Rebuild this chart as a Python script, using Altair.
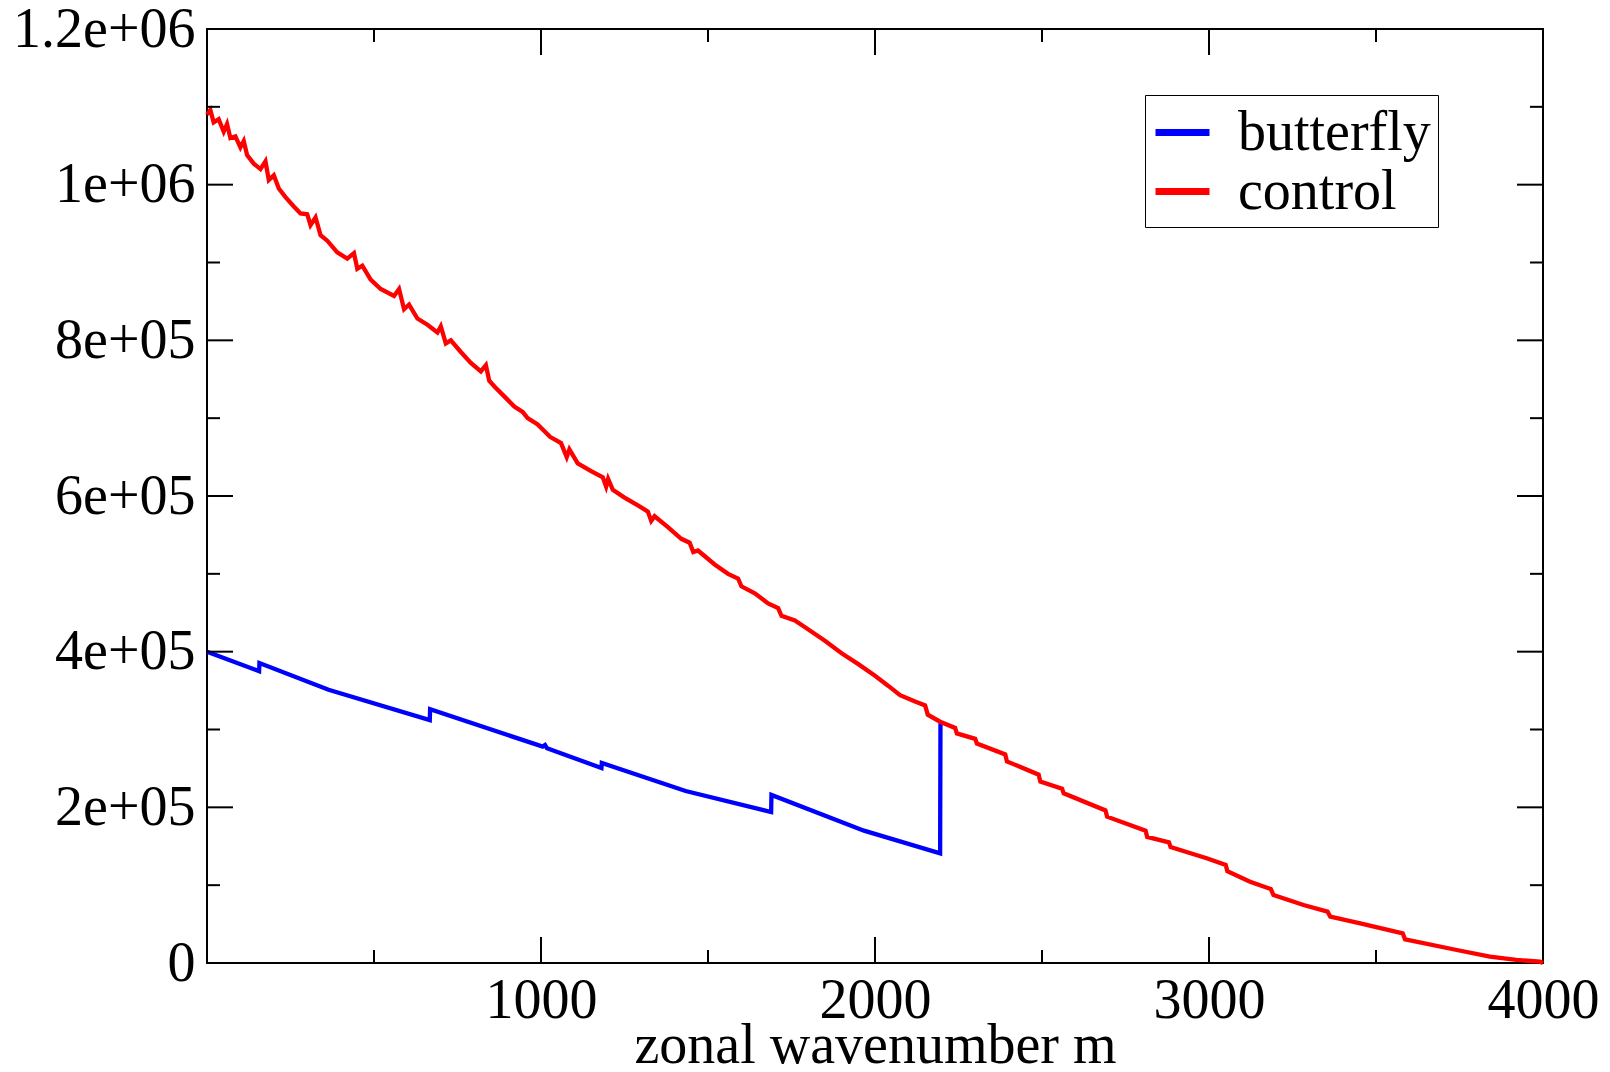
import altair as alt
import pandas as pd

# ---- data ----
control_m = [0, 10, 20, 35, 50, 60, 70, 85, 100, 110, 120, 140, 160, 175, 185, 200, 215, 235,
             260, 280, 300, 310, 325, 340, 360, 390, 420, 440, 450, 465, 490, 520, 560, 575,
             590, 605, 630, 660, 690, 700, 715, 730, 760, 790, 820, 835, 845, 862, 890, 920,
             945, 960, 990, 1027, 1060, 1077, 1085, 1110, 1150, 1185, 1195, 1201, 1215, 1250,
             1290, 1320, 1330, 1340, 1380, 1420, 1445, 1456, 1470, 1520, 1560, 1590, 1600,
             1640, 1680, 1710, 1720, 1760, 1795, 1850, 1900, 1950, 2000, 2040, 2075, 2120,
             2150, 2158, 2195, 2240, 2245, 2300, 2305, 2390, 2395, 2490, 2495, 2560, 2565,
             2690, 2695, 2810, 2815, 2880, 2885, 2993, 3050, 3055, 3123, 3185, 3193, 3283,
             3355, 3363, 3453, 3580, 3587, 3742, 3841, 3920, 3991, 4000]
control_v = [1090, 1096, 1080, 1084, 1068, 1078, 1060, 1062, 1048, 1056, 1038, 1027, 1020, 1030,
             1006, 1012, 995, 984, 972, 963, 962, 948, 958, 935, 928, 913, 905, 912, 892, 896,
             878, 866, 857, 866, 840, 846, 828, 820, 810, 818, 796, 800, 785, 771, 760, 768,
             748, 740, 728, 715, 708, 700, 692, 676, 668, 650, 660, 642, 632, 624, 612, 622,
             608, 598, 588, 580, 568, 574, 560, 545, 540, 528, 530, 512, 500, 494, 484, 475,
             462, 456, 446, 440, 430, 414, 398, 384, 369, 356, 344, 336, 331, 319, 310, 302,
             295, 288, 282, 268, 259, 242, 233, 224, 218, 196, 188, 170, 162, 155, 149, 134.5,
             126, 118, 104.5, 95, 87.4, 74.5, 66, 59.5, 51, 38, 30.4, 16.7, 8.1, 4, 1.7, 0]

butterfly_m = [0, 156, 157, 364, 667, 668, 1005, 1012, 1018, 1181, 1182, 1433, 1689, 1690,
               1967, 2195, 2196]
butterfly_v = [400, 375, 385.4, 351, 312, 326, 278, 280, 276, 250.5, 257, 221, 194, 216,
               170, 141, 308]

series_names = ["butterfly", "control"]
series_colors = ["#0000ff", "#ff0000"]

x_label_values = [1000, 2000, 3000, 4000]
x_major_ticks = [1000, 2000, 3000]
x_minor_ticks = [500, 1500, 2500, 3500]
y_label_values = [0, 200000, 400000, 600000, 800000, 1000000, 1200000]
y_label_texts = ["0", "2e+05", "4e+05", "6e+05", "8e+05", "1e+06", "1.2e+06"]
y_major_ticks = [200000, 400000, 600000, 800000, 1000000]
y_minor_ticks = [100000, 300000, 500000, 700000, 900000, 1100000]

# ---- layout ----
W, H = 1336, 934
MAJ, MIN = 26, 13
FONT = "Liberation Serif"
FS = 56

df = pd.concat([
    pd.DataFrame({"m": butterfly_m, "v": [v * 1000 for v in butterfly_v], "series": "butterfly"}),
    pd.DataFrame({"m": control_m, "v": [v * 1000 for v in control_v], "series": "control"}),
])

xs = alt.Scale(domain=[0, 4000], nice=False, zero=False)
ys = alt.Scale(domain=[0, 1200000], nice=False, zero=False)

label_expr = ""
for val, txt in zip(y_label_values, y_label_texts):
    label_expr += f"datum.value == {val} ? '{txt}' : "
label_expr += "''"

x_axis = alt.Axis(values=x_label_values, format="d", title="zonal wavenumber m",
                  labelPadding=10, titleY=99, titleBaseline="alphabetic", labelFlush=False,
                  labelOverlap=False, grid=False, labelLimit=400)
y_axis = alt.Axis(values=y_label_values, labelExpr=label_expr, title=None,
                  labelPadding=12, labelFlush=False, labelOverlap=False, grid=False,
                  labelLimit=400)

lines = alt.Chart(df).mark_line(strokeWidth=4.3).encode(
    x=alt.X("m:Q", scale=xs, axis=x_axis),
    y=alt.Y("v:Q", scale=ys, axis=y_axis),
    color=alt.Color("series:N",
                    scale=alt.Scale(domain=series_names, range=series_colors),
                    legend=alt.Legend(title=None, orient="none", legendX=938, legendY=66,
                                      symbolType="stroke", symbolSize=2916,
                                      symbolStrokeWidth=7, labelFont=FONT, labelFontSize=FS,
                                      labelOffset=25, labelLimit=400, padding=7,
                                      rowPadding=0, strokeColor="black", fillColor="white",
                                      labelColor="black")),
    order=alt.Order("m:Q"),
)


def xticks(vals, length, top):
    return alt.Chart(pd.DataFrame({"m": vals})).mark_rule(color="black", strokeWidth=2).encode(
        x=alt.X("m:Q", scale=xs, axis=x_axis),
        y=alt.value(0 if top else H),
        y2=alt.value(length if top else H - length),
    )


def yticks(vals, length, right):
    return alt.Chart(pd.DataFrame({"v": vals})).mark_rule(color="black", strokeWidth=2).encode(
        y=alt.Y("v:Q", scale=ys, axis=y_axis),
        x=alt.value(W if right else 0),
        x2=alt.value(W - length if right else length),
    )


ticks = [
    xticks(x_major_ticks, MAJ, False), xticks(x_minor_ticks, MIN, False),
    xticks(x_major_ticks, MAJ, True), xticks(x_minor_ticks, MIN, True),
    yticks(y_major_ticks, MAJ, False), yticks(y_minor_ticks, MIN, False),
    yticks(y_major_ticks, MAJ, True), yticks(y_minor_ticks, MIN, True),
]

chart = alt.layer(lines, *ticks).properties(
    width=W, height=H,
    autosize=alt.AutoSizeParams(type="none"),
    padding={"left": 207, "top": 29, "right": 67, "bottom": 109},
    background="white",
).configure_view(
    stroke="black", strokeWidth=2
).configure_axis(
    domain=False, ticks=False, labelFont=FONT, labelFontSize=FS, labelColor="black",
    titleFont=FONT, titleFontSize=FS, titleColor="black", titleFontWeight="normal",
)

chart.save("out.html", embed_options={"renderer": "svg", "actions": False})
